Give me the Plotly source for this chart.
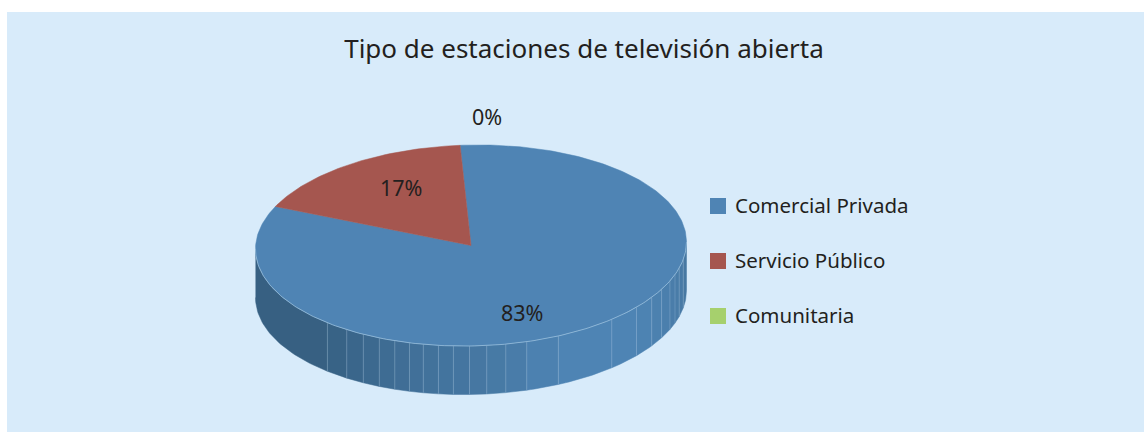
import math
import plotly.graph_objects as go

# ---- data
categories = ["Comercial Privada", "Servicio Público", "Comunitaria"]
shares = [82.7, 17.3, 0.0]
slice_colors = ["#4F84B4", "#A5564F", "#A6D06D"]
title_text = "Tipo de estaciones de televisión abierta"

# ---- pie geometry (in the pixel-like scale of the axes)
CX, CY, RX, RY, DEPTH, TILT = 471, 245.5, 215.5, 100.5, 48.5, 3.5
START = -2.9
# angles of the side facets, measured from the front of the pie
FACETS = [-90, -41.8, -35.2, -30, -25.2, -20.7, -16.6, -12.8, -8.7, -4.7, -0.4, 4.2, 9.3,
          15, 23.9, 40.8, 50.2, 57, 62.2, 67.4, 71.2, 75, 80, 90]
SHADES = [(-90, (54, 95, 129)), (-42, (55, 97, 131)), (-15, (65, 112, 153)),
          (10, (72, 123, 167)), (24, (78, 132, 180)), (50, (78, 132, 180)), (90, (70, 118, 160))]


def rim(t, drop=0.0):
    a = math.radians(t)
    return (CX + RX * math.sin(a), CY - RY * math.cos(a) - TILT * math.sin(a) + drop)


def arc(t0, t1, drop=0.0, step=1.0):
    n = max(2, int(abs(t1 - t0) / step) + 1)
    return [rim(t0 + (t1 - t0) * i / (n - 1), drop) for i in range(n)]


def shade(a):
    for (a0, c0), (a1, c1) in zip(SHADES, SHADES[1:]):
        if a0 <= a <= a1:
            f = (a - a0) / (a1 - a0)
            return "rgb(%d,%d,%d)" % tuple(round(p + (q - p) * f) for p, q in zip(c0, c1))
    return "rgb(78,132,180)"


fig = go.Figure()


def poly(points, fill, line=None, width=0):
    fig.add_trace(go.Scatter(
        x=[p[0] for p in points], y=[p[1] for p in points], mode="lines", fill="toself",
        fillcolor=fill, line=dict(color=line or fill, width=width or 0.5),
        hoverinfo="skip", showlegend=False))


# side wall (front half of the blue slice)
for a0, a1 in zip(FACETS, FACETS[1:]):
    t0, t1 = 180 - a0, 180 - a1
    poly(arc(t0, t1) + arc(t1, t0, DEPTH), shade((a0 + a1) / 2))
for a in FACETS[1:-1]:
    t = 180 - a
    p, q = rim(t), rim(t, DEPTH)
    fig.add_trace(go.Scatter(x=[p[0], q[0]], y=[p[1], q[1]], mode="lines",
                             line=dict(color="rgba(190,215,235,0.3)", width=0.8),
                             hoverinfo="skip", showlegend=False))

# top face: slices go clockwise from START
angle = START
for name, share, color in zip(categories, shares, slice_colors):
    sweep = share / sum(shares) * 360
    if sweep > 0:
        poly([(CX, CY)] + arc(angle, angle + sweep) + [(CX, CY)], color)
    angle += sweep

# light rim on the front edge
front = arc(90, 270)
fig.add_trace(go.Scatter(x=[p[0] for p in front], y=[p[1] for p in front], mode="lines",
                         line=dict(color="rgba(170,205,230,0.8)", width=0.8),
                         hoverinfo="skip", showlegend=False))

TXT = "#231F20"
FONT = "Noto Sans"

# legend entries: swatch with its name beside it
legend_x, legend_y, legend_gap = 718, 206, 55
annotations = []
for i, (name, color) in enumerate(zip(categories, slice_colors)):
    row_y = legend_y + i * legend_gap
    fig.add_trace(go.Scatter(x=[legend_x], y=[row_y], mode="markers", name=name,
                             marker=dict(symbol="square", size=16, color=color, line=dict(width=0)),
                             showlegend=False))
    annotations.append(dict(x=legend_x + 14.5, y=row_y - 1, text=name, showarrow=False, xref="x", yref="y",
                            xanchor="left", font=dict(family=FONT, size=20.5, color=TXT)))

label_pos = [(522, 312), (401, 187), (487, 116)]
annotations += [dict(x=x, y=y, text="%d%%" % round(s), showarrow=False, xref="x", yref="y",
                     font=dict(family=FONT, size=21.5, color=TXT))
                for (x, y), s in zip(label_pos, shares)]

fig.update_layout(
    width=1144, height=432, autosize=False,
    margin=dict(l=0, r=0, t=0, b=0),
    paper_bgcolor="white", plot_bgcolor="white",
    showlegend=False,
    xaxis=dict(range=[0, 1144], visible=False, fixedrange=True),
    yaxis=dict(range=[432, 0], visible=False, fixedrange=True),
    title=dict(text=title_text, x=584 / 1144, xanchor="center", y=1 - 49 / 432, yanchor="middle",
               font=dict(family=FONT, size=26, color=TXT)),
    shapes=[dict(type="rect", xref="x", yref="y", x0=7, y0=12, x1=1144, y1=432,
                 fillcolor="#D8EBFA", line=dict(width=0), layer="below")],
    annotations=annotations,
)
fig.write_html("out.html", config=dict(displayModeBar=False),
               post_script="document.body.style.margin='0';document.body.style.overflow='hidden';")
